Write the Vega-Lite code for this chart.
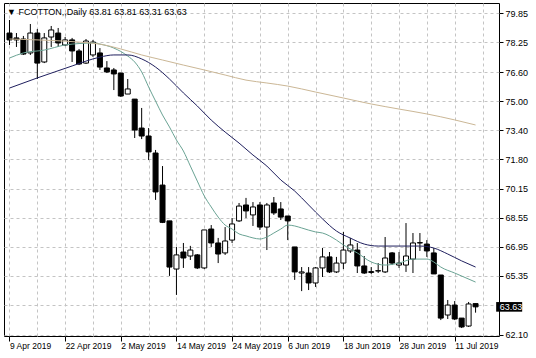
{
  "$schema": "https://vega.github.io/schema/vega-lite/v6.json",
  "width": 495,
  "height": 333,
  "autosize": {"type": "none"},
  "padding": {"left": 4, "top": 3, "right": 37, "bottom": 22},
  "background": "white",
  "config": {
    "view": {"stroke": "#000000", "strokeWidth": 1},
    "font": "Liberation Sans",
    "axis": {"labelOverlap": false, "labelSeparation": 0}
  },
  "title": {
    "text": "▼ FCOTTON,,Daily  63.81 63.81 63.31 63.63",
    "anchor": "start",
    "frame": "group",
    "orient": "top",
    "offset": -7.7,
    "baseline": "middle",
    "dx": 3,
    "dy": 10,
    "fontSize": 9,
    "fontWeight": "normal",
    "font": "Liberation Sans",
    "color": "#000000"
  },
  "datasets": {
    "bars": [
      {"i":0,"d":"2019-04-09","open":78.76,"high":79.48,"low":78.10,"close":78.38},
      {"i":1,"d":"2019-04-10","open":78.49,"high":78.76,"low":77.99,"close":78.38},
      {"i":2,"d":"2019-04-11","open":78.43,"high":78.60,"low":77.55,"close":77.60},
      {"i":3,"d":"2019-04-12","open":77.66,"high":79.26,"low":77.55,"close":78.76},
      {"i":4,"d":"2019-04-15","open":78.76,"high":78.98,"low":76.22,"close":77.10},
      {"i":5,"d":"2019-04-16","open":77.16,"high":78.76,"low":77.10,"close":78.49},
      {"i":6,"d":"2019-04-17","open":78.54,"high":79.15,"low":77.99,"close":78.93},
      {"i":7,"d":"2019-04-18","open":78.76,"high":79.04,"low":77.99,"close":78.21},
      {"i":8,"d":"2019-04-22","open":78.10,"high":78.54,"low":78.04,"close":78.38},
      {"i":9,"d":"2019-04-23","open":78.38,"high":78.49,"low":77.16,"close":77.77},
      {"i":10,"d":"2019-04-24","open":77.77,"high":77.88,"low":76.99,"close":77.05},
      {"i":11,"d":"2019-04-25","open":77.10,"high":78.43,"low":77.05,"close":78.32},
      {"i":12,"d":"2019-04-26","open":77.55,"high":78.38,"low":77.44,"close":78.26},
      {"i":13,"d":"2019-04-29","open":77.66,"high":77.93,"low":76.72,"close":76.88},
      {"i":14,"d":"2019-04-30","open":76.83,"high":77.21,"low":76.55,"close":76.61},
      {"i":15,"d":"2019-05-01","open":76.72,"high":76.83,"low":75.61,"close":76.50},
      {"i":16,"d":"2019-05-02","open":76.55,"high":76.55,"low":75.23,"close":75.28},
      {"i":17,"d":"2019-05-03","open":75.39,"high":76.22,"low":75.39,"close":75.67},
      {"i":18,"d":"2019-05-06","open":75.11,"high":75.11,"low":72.96,"close":73.40},
      {"i":19,"d":"2019-05-07","open":73.51,"high":74.62,"low":72.90,"close":73.07},
      {"i":20,"d":"2019-05-08","open":73.07,"high":73.51,"low":71.74,"close":72.19},
      {"i":21,"d":"2019-05-09","open":72.13,"high":72.30,"low":69.54,"close":69.98},
      {"i":22,"d":"2019-05-10","open":70.36,"high":71.41,"low":68.26,"close":68.30},
      {"i":23,"d":"2019-05-13","open":68.38,"high":68.38,"low":65.34,"close":65.83},
      {"i":24,"d":"2019-05-14","open":65.72,"high":66.94,"low":64.29,"close":66.50},
      {"i":25,"d":"2019-05-15","open":66.66,"high":67.16,"low":65.78,"close":66.33},
      {"i":26,"d":"2019-05-16","open":66.44,"high":67.00,"low":66.22,"close":66.77},
      {"i":27,"d":"2019-05-17","open":66.50,"high":66.55,"low":65.72,"close":65.78},
      {"i":28,"d":"2019-05-20","open":65.78,"high":67.88,"low":65.72,"close":67.88},
      {"i":29,"d":"2019-05-21","open":67.93,"high":68.15,"low":66.94,"close":67.16},
      {"i":30,"d":"2019-05-22","open":67.16,"high":67.44,"low":66.05,"close":66.55},
      {"i":31,"d":"2019-05-23","open":66.61,"high":68.04,"low":66.50,"close":67.27},
      {"i":32,"d":"2019-05-24","open":67.32,"high":68.54,"low":67.16,"close":68.21},
      {"i":33,"d":"2019-05-28","open":68.38,"high":69.37,"low":68.32,"close":69.20},
      {"i":34,"d":"2019-05-29","open":69.26,"high":69.65,"low":68.54,"close":68.93},
      {"i":35,"d":"2019-05-30","open":68.71,"high":69.42,"low":68.10,"close":69.15},
      {"i":36,"d":"2019-05-31","open":69.26,"high":69.42,"low":67.88,"close":68.04},
      {"i":37,"d":"2019-06-03","open":68.04,"high":69.37,"low":66.77,"close":69.26},
      {"i":38,"d":"2019-06-04","open":69.37,"high":69.70,"low":68.71,"close":68.82},
      {"i":39,"d":"2019-06-05","open":69.04,"high":69.42,"low":68.43,"close":68.59},
      {"i":40,"d":"2019-06-06","open":68.65,"high":68.65,"low":67.32,"close":68.38},
      {"i":41,"d":"2019-06-07","open":66.94,"high":66.94,"low":65.12,"close":65.56},
      {"i":42,"d":"2019-06-10","open":65.50,"high":65.83,"low":64.50,"close":65.56},
      {"i":43,"d":"2019-06-11","open":65.50,"high":65.83,"low":64.56,"close":64.95},
      {"i":44,"d":"2019-06-12","open":64.95,"high":65.83,"low":64.73,"close":65.78},
      {"i":45,"d":"2019-06-13","open":65.78,"high":66.88,"low":65.28,"close":66.39},
      {"i":46,"d":"2019-06-14","open":66.39,"high":66.66,"low":65.50,"close":65.56},
      {"i":47,"d":"2019-06-17","open":65.56,"high":66.39,"low":65.50,"close":66.05},
      {"i":48,"d":"2019-06-18","open":66.05,"high":67.77,"low":65.72,"close":66.77},
      {"i":49,"d":"2019-06-19","open":66.72,"high":67.44,"low":66.61,"close":67.05},
      {"i":50,"d":"2019-06-20","open":66.77,"high":67.16,"low":65.50,"close":65.89},
      {"i":51,"d":"2019-06-21","open":65.89,"high":66.44,"low":65.45,"close":65.50},
      {"i":52,"d":"2019-06-24","open":65.53,"high":65.83,"low":65.45,"close":65.58},
      {"i":53,"d":"2019-06-25","open":65.61,"high":66.05,"low":65.50,"close":65.63},
      {"i":54,"d":"2019-06-26","open":65.56,"high":67.49,"low":65.50,"close":66.33},
      {"i":55,"d":"2019-06-27","open":66.61,"high":66.66,"low":65.94,"close":66.05},
      {"i":56,"d":"2019-06-28","open":65.94,"high":66.66,"low":65.78,"close":66.05},
      {"i":57,"d":"2019-07-01","open":65.94,"high":68.26,"low":65.56,"close":66.44},
      {"i":58,"d":"2019-07-02","open":66.27,"high":67.71,"low":65.50,"close":67.16},
      {"i":59,"d":"2019-07-03","open":67.16,"high":67.71,"low":66.72,"close":67.18},
      {"i":60,"d":"2019-07-05","open":67.10,"high":67.32,"low":66.39,"close":66.72},
      {"i":61,"d":"2019-07-08","open":66.61,"high":66.88,"low":65.45,"close":65.45},
      {"i":62,"d":"2019-07-09","open":65.39,"high":65.39,"low":62.90,"close":63.01},
      {"i":63,"d":"2019-07-10","open":63.18,"high":64.01,"low":62.96,"close":63.73},
      {"i":64,"d":"2019-07-11","open":63.73,"high":63.95,"low":62.90,"close":62.96},
      {"i":65,"d":"2019-07-12","open":63.01,"high":63.01,"low":62.46,"close":62.52},
      {"i":66,"d":"2019-07-15","open":62.57,"high":63.90,"low":62.52,"close":63.79},
      {"i":67,"d":"2019-07-16","open":63.81,"high":63.81,"low":63.31,"close":63.63}
    ],
    "ma": [
      {"i":0,"ma":"fast","v":77.38},{"i":2,"ma":"fast","v":77.66},{"i":5,"ma":"fast","v":77.82},
      {"i":8,"ma":"fast","v":78.10},{"i":10,"ma":"fast","v":78.18},{"i":12,"ma":"fast","v":78.21},
      {"i":13,"ma":"fast","v":78.15},{"i":15,"ma":"fast","v":77.93},{"i":17,"ma":"fast","v":77.49},
      {"i":18,"ma":"fast","v":77.16},{"i":19,"ma":"fast","v":76.61},{"i":20,"ma":"fast","v":75.78},
      {"i":21,"ma":"fast","v":75.00},{"i":22,"ma":"fast","v":74.23},{"i":23,"ma":"fast","v":73.57},
      {"i":24,"ma":"fast","v":72.85},{"i":25,"ma":"fast","v":72.24},{"i":26,"ma":"fast","v":71.41},
      {"i":27,"ma":"fast","v":70.58},{"i":28,"ma":"fast","v":69.76},{"i":29,"ma":"fast","v":69.15},
      {"i":30,"ma":"fast","v":68.59},{"i":31,"ma":"fast","v":68.15},{"i":32,"ma":"fast","v":67.93},
      {"i":33,"ma":"fast","v":67.66},{"i":34,"ma":"fast","v":67.55},{"i":35,"ma":"fast","v":67.44},
      {"i":36,"ma":"fast","v":67.38},{"i":37,"ma":"fast","v":67.49},{"i":38,"ma":"fast","v":67.71},
      {"i":39,"ma":"fast","v":67.93},{"i":40,"ma":"fast","v":68.15},{"i":41,"ma":"fast","v":68.10},
      {"i":42,"ma":"fast","v":67.99},{"i":44,"ma":"fast","v":67.77},{"i":45,"ma":"fast","v":67.71},
      {"i":47,"ma":"fast","v":67.32},{"i":48,"ma":"fast","v":67.05},{"i":49,"ma":"fast","v":66.83},
      {"i":50,"ma":"fast","v":66.61},{"i":52,"ma":"fast","v":66.11},{"i":54,"ma":"fast","v":65.94},
      {"i":56,"ma":"fast","v":66.05},{"i":58,"ma":"fast","v":66.27},{"i":60,"ma":"fast","v":66.27},
      {"i":61,"ma":"fast","v":66.11},{"i":62,"ma":"fast","v":65.83},{"i":64,"ma":"fast","v":65.50},
      {"i":67,"ma":"fast","v":65.00},
      {"i":0,"ma":"mid","v":75.72},{"i":4,"ma":"mid","v":76.28},{"i":9,"ma":"mid","v":76.94},
      {"i":11,"ma":"mid","v":77.21},{"i":13,"ma":"mid","v":77.43},{"i":15,"ma":"mid","v":77.55},
      {"i":17,"ma":"mid","v":77.55},{"i":19,"ma":"mid","v":77.33},{"i":21,"ma":"mid","v":76.88},
      {"i":23,"ma":"mid","v":76.22},{"i":25,"ma":"mid","v":75.45},{"i":27,"ma":"mid","v":74.73},
      {"i":29,"ma":"mid","v":73.95},{"i":31,"ma":"mid","v":73.29},{"i":33,"ma":"mid","v":72.68},
      {"i":35,"ma":"mid","v":72.02},{"i":37,"ma":"mid","v":71.41},{"i":39,"ma":"mid","v":70.64},
      {"i":41,"ma":"mid","v":70.03},{"i":43,"ma":"mid","v":69.26},{"i":45,"ma":"mid","v":68.49},
      {"i":47,"ma":"mid","v":67.82},{"i":49,"ma":"mid","v":67.43},{"i":51,"ma":"mid","v":67.10},
      {"i":53,"ma":"mid","v":66.99},{"i":56,"ma":"mid","v":66.99},{"i":59,"ma":"mid","v":66.99},
      {"i":61,"ma":"mid","v":66.88},{"i":63,"ma":"mid","v":66.55},{"i":65,"ma":"mid","v":66.17},
      {"i":67,"ma":"mid","v":65.83},
      {"i":0,"ma":"slow","v":78.43},{"i":6,"ma":"slow","v":78.35},{"i":10,"ma":"slow","v":78.26},
      {"i":13,"ma":"slow","v":78.15},{"i":16,"ma":"slow","v":77.88},{"i":19,"ma":"slow","v":77.55},
      {"i":22,"ma":"slow","v":77.27},{"i":25,"ma":"slow","v":76.99},{"i":28,"ma":"slow","v":76.72},
      {"i":31,"ma":"slow","v":76.44},{"i":34,"ma":"slow","v":76.16},{"i":37,"ma":"slow","v":76.00},
      {"i":40,"ma":"slow","v":75.83},{"i":44,"ma":"slow","v":75.50},{"i":48,"ma":"slow","v":75.17},
      {"i":52,"ma":"slow","v":74.84},{"i":56,"ma":"slow","v":74.56},{"i":60,"ma":"slow","v":74.29},
      {"i":64,"ma":"slow","v":73.96},{"i":67,"ma":"slow","v":73.68}
    ]
  },
  "data": {"name": "bars"},
  "encoding": {
    "x": {
      "field": "i",
      "type": "quantitative",
      "scale": {"domain": [-0.07, 69.65], "nice": false, "zero": false},
      "axis": {
        "title": null,
        "orient": "bottom",
        "values": [0,4,8,12,16,20,24,28,32,36,40,44,48,52,56,60,64,68],
        "tickCount": 200,
        "labelExpr": "datum.value % 8 === 0 ? ['9 Apr 2019','22 Apr 2019','2 May 2019','14 May 2019','24 May 2019','6 Jun 2019','18 Jun 2019','28 Jun 2019','11 Jul 2019'][datum.value / 8] : ''",
        "domain": false,
        "grid": true,
        "gridColor": "#c4c4c4",
        "gridDash": [3, 3],
        "gridWidth": 1,
        "ticks": true,
        "tickSize": 5,
        "tickColor": "#000000",
        "tickOpacity": {"condition": {"test": "datum.value % 8 === 0", "value": 1}, "value": 0},
        "labelAlign": "left",
        "labelBaseline": "top",
        "labelPadding": 0,
        "labelFontSize": 8.5,
        "labelFont": "Liberation Sans",
        "labelColor": "#000000",
        "labelOverlap": false,
        "labelBound": false,
        "labelFlush": false
      }
    }
  },
  "layer": [
    {
      "mark": {"type": "rule", "color": "#000000", "strokeWidth": 1, "clip": true},
      "encoding": {
        "y": {
          "field": "low",
          "type": "quantitative",
          "scale": {"domain": [62.02, 80.42], "nice": false, "zero": false},
          "axis": {
            "title": null,
            "orient": "right",
            "values": [62.10, 63.75, 65.35, 66.95, 68.55, 70.15, 71.80, 73.40, 75.00, 76.60, 78.25, 79.85],
            "tickCount": 200,
            "labelExpr": "datum.value === 63.75 ? '' : format(datum.value, '.2f')",
            "domain": false,
            "grid": true,
            "gridColor": "#c4c4c4",
            "gridDash": [3, 3],
            "gridWidth": 1,
            "tickSize": 4,
            "tickColor": "#000000",
            "labelPadding": 2,
            "labelFontSize": 9,
            "labelFont": "Liberation Sans",
            "labelColor": "#000000",
            "labelBaseline": "middle",
            "labelOverlap": false,
            "labelBound": false,
            "labelFlush": false
          }
        },
        "y2": {"field": "high"}
      }
    },
    {
      "mark": {"type": "bar", "width": 5, "stroke": "#000000", "strokeWidth": 1, "clip": true},
      "encoding": {
        "y": {"field": "open", "type": "quantitative"},
        "y2": {"field": "close"},
        "fill": {
          "condition": {"test": "datum.open > datum.close", "value": "#000000"},
          "value": "#ffffff"
        }
      }
    },
    {
      "data": {"name": "ma"},
      "mark": {"type": "line", "strokeWidth": 1, "clip": true, "interpolate": "monotone"},
      "encoding": {
        "y": {"field": "v", "type": "quantitative"},
        "color": {
          "field": "ma",
          "type": "nominal",
          "scale": {"domain": ["fast", "mid", "slow"], "range": ["#6aa394", "#1f1f5e", "#cbb796"]},
          "legend": null
        }
      }
    },
    {
      "transform": [{"filter": "datum.i === 67"}],
      "mark": {"type": "point", "shape": "M-1,-0.37L1,-0.37L1,0.37L-1,0.37Z", "size": 676, "filled": true, "color": "#000000", "opacity": 1, "clip": false},
      "encoding": {
        "x": {"datum": 71.83},
        "y": {"field": "close", "type": "quantitative"}
      }
    },
    {
      "transform": [{"filter": "datum.i === 67"}],
      "mark": {"type": "text", "align": "left", "baseline": "middle", "color": "#ffffff", "fontSize": 9, "font": "Liberation Sans", "clip": false},
      "encoding": {
        "x": {"datum": 70.49},
        "y": {"field": "close", "type": "quantitative"},
        "text": {"field": "close", "type": "quantitative", "format": ".2f"}
      }
    }
  ]
}
